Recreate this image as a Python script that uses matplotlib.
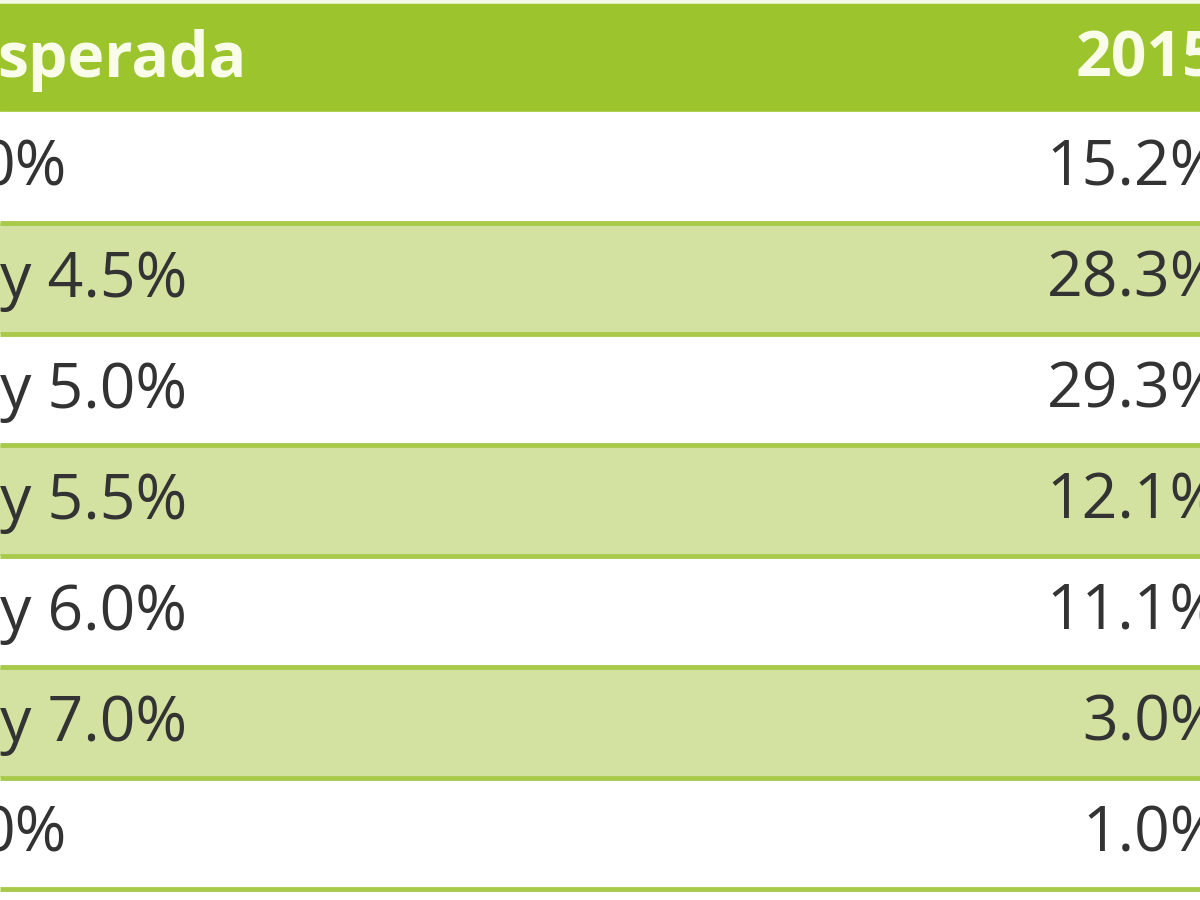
import matplotlib.pyplot as plt
from matplotlib.patches import Rectangle

header_left = "sperada"
header_right = "2015"
rangos = ["0%", "y 4.5%", "y 5.0%", "y 5.5%", "y 6.0%", "y 7.0%", "0%"]
valores = [15.2, 28.3, 29.3, 12.1, 11.1, 3.0, 1.0]

verde = "#9cc42c"
verde_claro = "#d3e2a0"
linea = "#a8c94a"

fig = plt.figure(figsize=(12, 9), dpi=100)
ax = fig.add_axes([0, 0, 1, 1])
ax.set_xlim(0, 1200)
ax.set_ylim(900, 0)
ax.axis("off")

top, head_h, row_h = 4, 108, 111
ax.add_patch(Rectangle((0, 0), 1200, top, color="#f3f8e4"))
ax.add_patch(Rectangle((0, top), 1200, head_h, color=verde))
ax.text(-3, top + head_h / 2 + 2, header_left, fontsize=45, fontweight="bold",
        family="Open Sans", color="#f8fce8", va="center", ha="left")
ax.text(1218, top + head_h / 2 + 2, header_right, fontsize=45, fontweight="bold",
        family="Open Sans", color="#f8fce8", va="center", ha="right")

y0 = top + head_h
for i, (r, v) in enumerate(zip(rangos, valores)):
    y = y0 + i * row_h
    ax.add_patch(Rectangle((0, y), 1200, row_h, color=verde_claro if i % 2 else "white"))
    ax.plot([0, 1200], [y + row_h, y + row_h], color=linea, lw=3.5, solid_capstyle="butt")
    xl = -20 if r == "0%" else 0
    ax.text(xl, y + row_h / 2 + 2, r, fontsize=45, family="Open Sans",
            color="#333333", va="center", ha="left")
    ax.text(1222, y + row_h / 2 + 2, f"{v:.1f}%", fontsize=45, family="Open Sans",
            color="#333333", va="center", ha="right")

fig.savefig("out.png", dpi=100)
